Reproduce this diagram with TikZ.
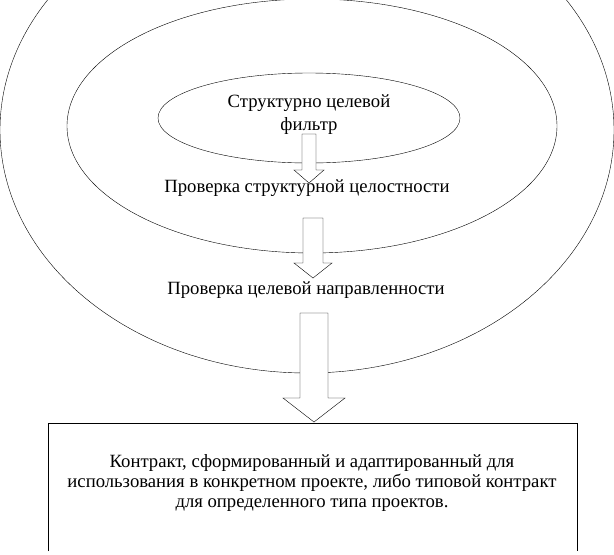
\documentclass[tikz,border=0pt]{standalone}
\usepackage{fontspec}
\setmainfont{Liberation Serif}
\begin{document}
\begin{tikzpicture}
  [x=1pt,y=-1pt,every node/.style={font=\fontsize{18.7}{20}\selectfont,align=center}]

  \useasboundingbox (0,0) rectangle (614,555);
  \clip (0,0) rectangle (614,555);

  \draw (307,130) ellipse [x radius=307,y radius=243];
  \draw (312,126) ellipse [x radius=245,y radius=127];
  \draw (309,118) ellipse [x radius=151,y radius=45];
  \draw (48,551) -- (48,423) -- (577,423) -- (577,551);

\foreach \x/\top/\neck/\tip/\sw/\hw in {309/134/170/183/7/15,313/218/263/278/10/19,314/313/398/422/14/31}
    \draw[fill=white] (\x-\sw,\top) -- (\x+\sw,\top) -- (\x+\sw,\neck) -- (\x+\hw,\neck)
      -- (\x,\tip) -- (\x-\hw,\neck) -- (\x-\sw,\neck) -- cycle;

  \node (filter) at (309,115) {Структурно целевой\\[3pt]фильтр};
  \node (check1) at (307,188) {Проверка структурной целостности};
  \node (check2) at (306,290) {Проверка целевой направленности};
  \node (contract) at (312,483) {Контракт, сформированный и адаптированный для\\
    использования в конкретном проекте, либо типовой контракт\\
    для определенного типа проектов.};

\end{tikzpicture}
\end{document}
